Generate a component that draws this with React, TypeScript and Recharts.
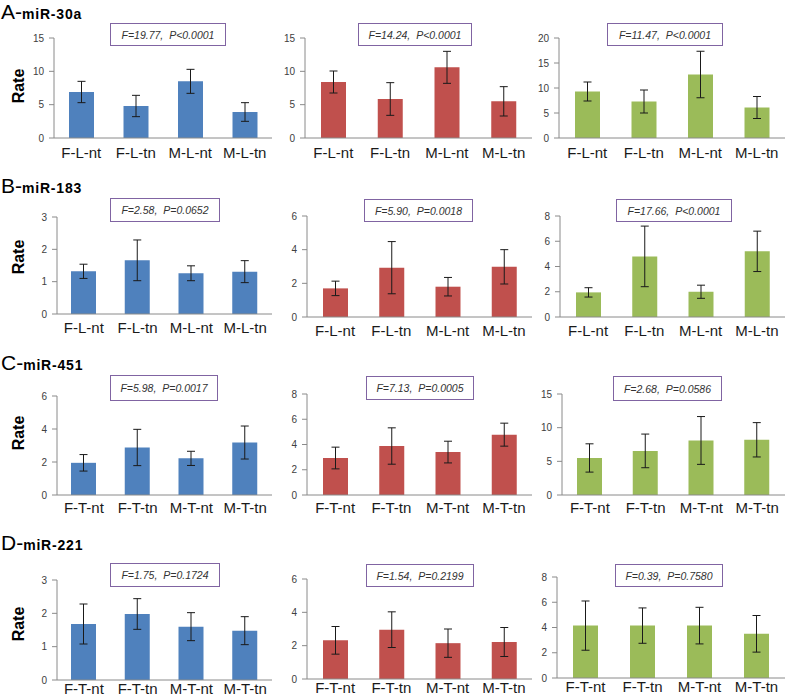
import React from 'react';
import { BarChart, Bar, XAxis, YAxis, ErrorBar } from 'recharts';

const catL = ['F-L-nt', 'F-L-tn', 'M-L-nt', 'M-L-tn'];
const catT = ['F-T-nt', 'F-T-tn', 'M-T-nt', 'M-T-tn'];

// A - miR-30a
const a1Mean = [6.9, 4.8, 8.5, 3.9];
const a1Err = [1.6, 1.6, 1.8, 1.4];
const a2Mean = [8.4, 5.85, 10.6, 5.5];
const a2Err = [1.65, 2.45, 2.4, 2.2];
const a3Mean = [9.3, 7.3, 12.7, 6.1];
const a3Err = [1.9, 2.3, 4.65, 2.2];

// B - miR-183
const b1Mean = [1.32, 1.66, 1.26, 1.31];
const b1Err = [0.22, 0.63, 0.23, 0.34];
const b2Mean = [1.7, 2.93, 1.8, 2.98];
const b2Err = [0.43, 1.55, 0.55, 1.02];
const b3Mean = [1.95, 4.8, 2.0, 5.2];
const b3Err = [0.37, 2.4, 0.52, 1.6];

// C - miR-451
const c1Mean = [1.95, 2.88, 2.22, 3.18];
const c1Err = [0.5, 1.1, 0.43, 1.0];
const c2Mean = [2.93, 3.88, 3.4, 4.78];
const c2Err = [0.86, 1.44, 0.86, 0.91];
const c3Mean = [5.5, 6.55, 8.1, 8.2];
const c3Err = [2.1, 2.5, 3.55, 2.55];

// D - miR-221
const d1Mean = [1.68, 1.98, 1.6, 1.48];
const d1Err = [0.6, 0.46, 0.42, 0.42];
const d2Mean = [2.32, 2.96, 2.15, 2.22];
const d2Err = [0.83, 1.07, 0.85, 0.87];
const d3Mean = [4.15, 4.15, 4.15, 3.5];
const d3Err = [1.95, 1.4, 1.45, 1.45];

const ticks3 = [0, 1, 2, 3];
const ticks6 = [0, 2, 4, 6];
const ticks8 = [0, 2, 4, 6, 8];
const ticks15 = [0, 5, 10, 15];
const ticks20 = [0, 5, 10, 15, 20];

const stats = [
  ['F=19.77, P<0.0001', 'F=14.24, P<0.0001', 'F=11.47, P<0.0001'],
  ['F=2.58, P=0.0652', 'F=5.90, P=0.0018', 'F=17.66, P<0.0001'],
  ['F=5.98, P=0.0017', 'F=7.13, P=0.0005', 'F=2.68, P=0.0586'],
  ['F=1.75, P=0.1724', 'F=1.54, P=0.2199', 'F=0.39, P=0.7580'],
];

const BLUE = '#4F81BD';
const RED = '#C0504D';
const GREEN = '#9BBB59';
const AXIS = '#8a8a8a';
const FONT = 'Arial, "Liberation Sans", sans-serif';

type PanelProps = {
  plot: [number, number, number, number]; // left, right, top, bottom
  box: [number, number, number, number];
  gap: number;
  cats: string[];
  mean: number[];
  err: number[];
  ticks: number[];
  color: string;
  stat: string;
};

function Panel({ plot, box, gap, cats, mean, err, ticks, color, stat }: PanelProps) {
  const [pl, pr, pt, pb] = plot;
  const yW = 34;
  const padTop = 10;
  const xH = 30;
  const w = pr - pl + yW + 6;
  const h = pb - pt + padTop + xH;
  const data = cats.map((c, i) => ({ cat: c, mean: mean[i], err: err[i] }));
  const max = ticks[ticks.length - 1];
  return (
    <>
      <div style={{ position: 'absolute', left: pl - yW, top: pt - padTop }}>
        <BarChart width={w} height={h} data={data} margin={{ top: padTop, right: 6, bottom: 0, left: 0 }}>
          <XAxis
            xAxisId="g"
            type="number"
            domain={[0, 4]}
            ticks={[0, 1, 2, 3, 4]}
            allowDataOverflow
            height={0}
            tick={false}
            tickSize={5}
            axisLine={false}
            stroke={AXIS}
          />
          <XAxis
            xAxisId="c"
            dataKey="cat"
            height={xH}
            tickLine={false}
            tickSize={gap}
            tickMargin={0}
            interval={0}
            stroke={AXIS}
            tick={{ fill: '#1a1a1a', fontSize: 15, fontFamily: FONT }}
          />
          <YAxis
            width={yW}
            domain={[0, max]}
            ticks={ticks}
            tickSize={5}
            tickMargin={5}
            stroke={AXIS}
            tick={{ fill: '#404040', fontSize: 10, fontFamily: FONT }}
          />
          <Bar dataKey="mean" xAxisId="c" fill={color} barSize={25} isAnimationActive={false}>
            <ErrorBar dataKey="err" width={4} stroke="#1a1a1a" strokeWidth={1} />
          </Bar>
        </BarChart>
      </div>
      <div
        style={{
          position: 'absolute',
          left: box[0],
          top: box[1],
          width: box[2],
          height: box[3],
          boxSizing: 'border-box',
          border: '1.5px solid #8064A2',
          background: '#fff',
          display: 'flex',
          alignItems: 'center',
          justifyContent: 'center',
          fontFamily: FONT,
          fontStyle: 'italic',
          fontSize: 10.5,
          color: '#333',
          wordSpacing: 3,
        }}
      >
        {stat}
      </div>
    </>
  );
}

function RowTitle({ letter, name, top }: { letter: string; name: string; top: number }) {
  return (
    <div style={{ position: 'absolute', left: 1, top, lineHeight: '21px', fontFamily: FONT, color: '#000', whiteSpace: 'nowrap' }}>
      <span style={{ fontSize: 21 }}>{letter}-</span>
      <span style={{ fontSize: 14, fontWeight: 'bold', letterSpacing: 0.8 }}>{name}</span>
    </div>
  );
}

function RateLabel({ cy }: { cy: number }) {
  return (
    <div
      style={{
        position: 'absolute',
        left: 19 - 25,
        top: cy - 10,
        width: 50,
        height: 20,
        textAlign: 'center',
        lineHeight: '20px',
        fontFamily: FONT,
        fontWeight: 'bold',
        fontSize: 16,
        transform: 'rotate(-90deg)',
      }}
    >
      Rate
    </div>
  );
}

export default function App() {
  return (
    <div style={{ position: 'absolute', left: 0, top: 0, width: 792, height: 697, background: '#fff', overflow: 'hidden' }}>
      <RowTitle letter="A" name="miR-30a" top={1} />
      <RowTitle letter="B" name="miR-183" top={175} />
      <RowTitle letter="C" name="miR-451" top={352} />
      <RowTitle letter="D" name="miR-221" top={532} />
      <RateLabel cy={86} />
      <RateLabel cy={257} />
      <RateLabel cy={433} />
      <RateLabel cy={624} />

      <Panel plot={[54, 272, 38, 138]} box={[110, 23, 116, 23]} gap={9} cats={catL} mean={a1Mean} err={a1Err} ticks={ticks15} color={BLUE} stat={stats[0][0]} />
      <Panel plot={[305, 532, 38, 138]} box={[358, 23, 114, 23]} gap={9} cats={catL} mean={a2Mean} err={a2Err} ticks={ticks15} color={RED} stat={stats[0][1]} />
      <Panel plot={[559, 785, 38, 138]} box={[607, 23, 116, 23]} gap={9} cats={catL} mean={a3Mean} err={a3Err} ticks={ticks20} color={GREEN} stat={stats[0][2]} />

      <Panel plot={[57, 272, 217, 314]} box={[110, 198, 110, 24]} gap={8} cats={catL} mean={b1Mean} err={b1Err} ticks={ticks3} color={BLUE} stat={stats[1][0]} />
      <Panel plot={[307, 532, 216, 317]} box={[364, 199, 109, 23]} gap={8} cats={catL} mean={b2Mean} err={b2Err} ticks={ticks6} color={RED} stat={stats[1][1]} />
      <Panel plot={[560, 785, 216, 317]} box={[616, 199, 116, 23]} gap={8} cats={catL} mean={b3Mean} err={b3Err} ticks={ticks8} color={GREEN} stat={stats[1][2]} />

      <Panel plot={[57, 272, 396, 495]} box={[110, 375, 108, 26]} gap={7} cats={catT} mean={c1Mean} err={c1Err} ticks={ticks6} color={BLUE} stat={stats[2][0]} />
      <Panel plot={[307, 532, 394, 495]} box={[366, 376, 108, 24]} gap={7} cats={catT} mean={c2Mean} err={c2Err} ticks={ticks8} color={RED} stat={stats[2][1]} />
      <Panel plot={[562, 785, 394, 495]} box={[613, 376, 109, 25]} gap={7} cats={catT} mean={c3Mean} err={c3Err} ticks={ticks15} color={GREEN} stat={stats[2][2]} />

      <Panel plot={[57, 272, 580, 680]} box={[110, 563, 110, 24]} gap={3} cats={catT} mean={d1Mean} err={d1Err} ticks={ticks3} color={BLUE} stat={stats[3][0]} />
      <Panel plot={[307, 532, 579, 679]} box={[366, 564, 108, 23]} gap={3} cats={catT} mean={d2Mean} err={d2Err} ticks={ticks6} color={RED} stat={stats[3][1]} />
      <Panel plot={[557, 785, 577, 678]} box={[615, 564, 108, 23]} gap={3} cats={catT} mean={d3Mean} err={d3Err} ticks={ticks8} color={GREEN} stat={stats[3][2]} />
    </div>
  );
}
